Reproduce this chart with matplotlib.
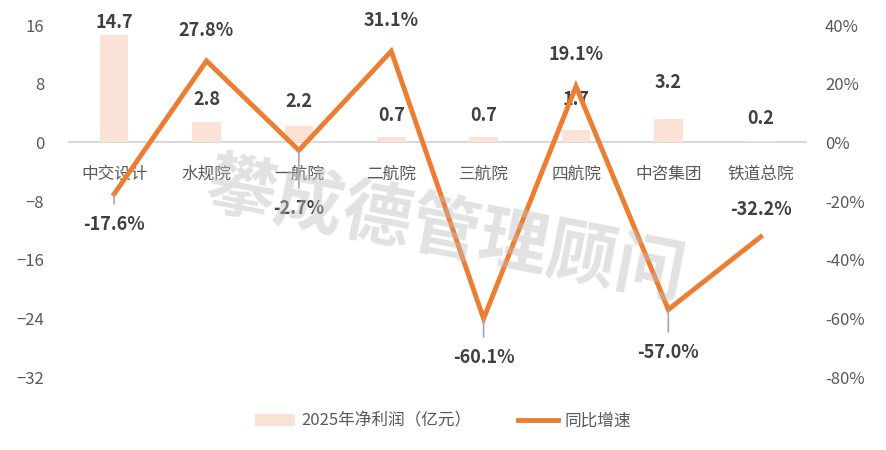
import numpy as np
import matplotlib.pyplot as plt
from matplotlib.ticker import FuncFormatter

plt.rcParams['font.family'] = ['Noto Sans CJK SC', 'DejaVu Sans']

categories = ['中交设计', '水规院', '一航院', '二航院', '三航院', '四航院', '中咨集团', '铁道总院']
profit = [14.7, 2.8, 2.2, 0.7, 0.7, 1.7, 3.2, 0.2]
growth = [-17.6, 27.8, -2.7, 31.1, -60.1, 19.1, -57.0, -32.2]
left_ticks = [-32, -24, -16, -8, 0, 8, 16]
right_ticks = [-80, -60, -40, -20, 0, 20, 40]

# label offsets in points and whether a leader line is drawn
bar_off = [9, 16, 18, 16, 16, 22, 26, 16]
line_off = [-22, 22, -42, 22, -28, 23, -31, 20]
leader = [True, False, True, False, True, False, True, False]

bar_color = '#FAE3D6'
line_color = '#ED7D31'
text_color = '#404040'
tick_color = '#595959'

fig = plt.figure(figsize=(8.86, 4.5), dpi=100)
ax = fig.add_axes([0.0767, 0.1622, 0.834, 0.782])
ax2 = ax.twinx()

x = np.arange(len(categories))
bars = ax.bar(x, profit, width=0.31, color=bar_color, zorder=2)
ax.axhline(0, color='#D9D9D9', lw=1.5, zorder=1)
ax.set_ylim(-32, 16)
ax.set_xlim(-0.5, len(categories) - 0.5)
ax.set_yticks(left_ticks)
ax.set_xticks([])

for xi, v, off in zip(x, profit, bar_off):
    ax.annotate(f'{v:.1f}', (xi, v), xytext=(0, off), textcoords='offset points',
                ha='center', va='center', fontsize=13, fontweight='bold', color=text_color)

for xi, name in zip(x, categories):
    ax.annotate(name, (xi, 0), xytext=(0, -23), textcoords='offset points',
                ha='center', va='center', fontsize=12, color=tick_color)

ln, = ax2.plot(x, growth, color=line_color, lw=3.5, zorder=3, solid_joinstyle='miter')
ax2.set_ylim(-80, 40)
ax2.set_yticks(right_ticks)
ax2.yaxis.set_major_formatter(FuncFormatter(lambda v, p: f'{v:.0f}%'))

for xi, v, dy, ld in zip(x, growth, line_off, leader):
    arrow = dict(arrowstyle='-', color='#A6A6A6', lw=1.2, shrinkA=6, shrinkB=0) if ld else None
    ax2.annotate(f'{v:.1f}%', (xi, v), xytext=(0, dy), textcoords='offset points',
                 ha='center', va='center', fontsize=13, fontweight='bold', color=text_color,
                 arrowprops=arrow)

for a in (ax, ax2):
    for s in a.spines.values():
        s.set_visible(False)
ax.tick_params(axis='y', length=0, pad=17, labelsize=12, labelcolor=tick_color)
ax2.tick_params(axis='y', length=0, pad=13, labelsize=12, labelcolor=tick_color)

fig.text(0.503, 0.485, '攀成德管理顾问', fontsize=50, fontweight='bold', color='#BFBFBF',
         alpha=0.45, rotation=-11, ha='center', va='center', zorder=10)

fig.legend([bars, ln], ['2025年净利润（亿元）', '同比增速'], loc='center',
           bbox_to_anchor=(0.5, 0.064), ncol=2, frameon=False, fontsize=12,
           labelcolor=tick_color, handlelength=2.4, columnspacing=2.8, handletextpad=0.4)

fig.savefig('out.png', dpi=100)
